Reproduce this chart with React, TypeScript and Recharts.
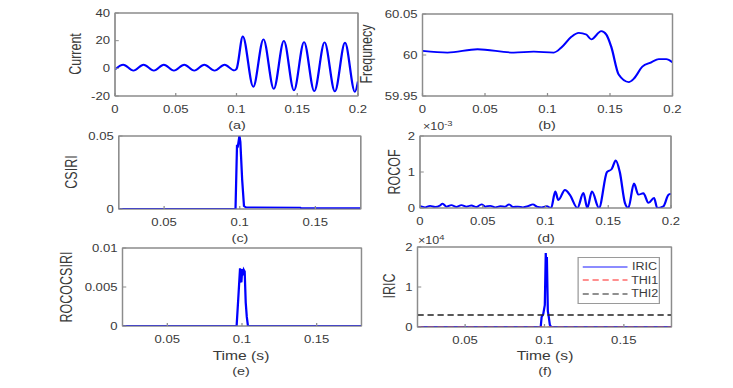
import React from "react";
import { LineChart, Line, XAxis, YAxis, Legend, ReferenceArea } from "recharts";

// horizontal stretch of the original figure
const S = 1.25;
const FONT = "'Liberation Sans', Arial, Helvetica, sans-serif";
const AXIS = "#8c8c8c";
const TEXT = "#3a3a3a";
const BLUE = "#0000ff";

// (a) current
const currentT = [0, 0.0068, 0.0152, 0.0235, 0.032, 0.0402, 0.0485, 0.057, 0.0652, 0.0735, 0.082, 0.0902, 0.0982, 0.1, 0.1052, 0.1138, 0.1222, 0.1307, 0.139, 0.1473, 0.1556, 0.164, 0.1725, 0.181, 0.1893, 0.1975, 0.2];
const currentV = [-0.8, 2.6, -1.6, 2.6, -1.6, 2.6, -1.6, 2.6, -1.6, 2.6, -1.6, 2.6, -1.5, -0.5, 23, -13.3, 21, -14.8, 19.9, -16, 19, -16.5, 18.7, -16.7, 18.5, -17, -9.5];

// (b) frequency
const freqT = [0, 0.02, 0.044, 0.073, 0.089, 0.105, 0.111, 0.119, 0.125, 0.131, 0.135, 0.143, 0.147, 0.151, 0.157, 0.165, 0.169, 0.176, 0.183, 0.189, 0.195, 0.2];
const freqV = [60.005, 60.003, 60.007, 60.003, 60.004, 60.003, 60.009, 60.022, 60.027, 60.025, 60.019, 60.029, 60.025, 60.01, 59.976, 59.967, 59.971, 59.986, 59.991, 59.995, 59.995, 59.991];

// (c) CSIRI
const csiriT = [0.02, 0.0972, 0.0982, 0.0986, 0.0998, 0.1004, 0.1016, 0.1028, 0.104, 0.14, 0.1405, 0.18];
const csiriV = [0, 0, 0.044, 0.042, 0.05, 0.046, 0.02, 0.002, 0.0012, 0.001, 0.0006, 0.0005];

// (d) ROCOF, x 10^-3
const rocofT = [0, 0.004, 0.008, 0.012, 0.016, 0.018, 0.021, 0.025, 0.029, 0.033, 0.037, 0.041, 0.045, 0.049, 0.052, 0.056, 0.06, 0.064, 0.068, 0.071, 0.074, 0.078, 0.082, 0.086, 0.09, 0.093, 0.097, 0.101, 0.1045, 0.1078, 0.1102, 0.1155, 0.1195, 0.1254, 0.1302, 0.1333, 0.137, 0.1426, 0.149, 0.1527, 0.156, 0.1592, 0.1633, 0.166, 0.1705, 0.174, 0.178, 0.182, 0.1865, 0.189, 0.194, 0.198, 0.2];
const rocofV = [0.05, 0.02, 0.06, 0.03, 0.07, 0.12, 0.04, 0.08, 0.03, 0.08, 0.04, 0.07, 0.03, 0.1, 0.04, 0.06, 0.02, 0.05, 0.04, 0.1, 0.03, 0.04, 0.02, 0.05, 0.1, 0.04, 0.02, 0.05, 0, 0.46, 0.22, 0.5, 0.36, 0, 0.42, 0, 0.46, 0, 1.0, 1.08, 1.32, 1.0, 0.14, 0, 0.68, 0.37, 0.41, 0.14, 0.28, 0, 0.05, 0.37, 0.39];

// (e) ROCOCSIRI
const rocoT = [0.02, 0.0964, 0.0975, 0.0987, 0.0991, 0.0996, 0.1002, 0.1007, 0.1012, 0.1018, 0.1025, 0.1032, 0.104, 0.18];
const rocoV = [0, 0, 0.0035, 0.0074, 0.0058, 0.0056, 0.0073, 0.0065, 0.0072, 0.007, 0.003, 0.0012, 0, 0];

// (f) IRIC and thresholds, x 10^4
const iricT = [0.02, 0.0976, 0.0982, 0.0992, 0.1002, 0.1008, 0.1011, 0.1015, 0.1021, 0.1027, 0.1034, 0.1042, 0.18];
const iricV = [0, 0, 0.25, 0.32, 0.55, 1.85, 1.45, 1.75, 0.4, 0.25, 0.05, 0, 0];
const thiT = [0.02, 0.18];
const thi1V = [0, 0];
const thi2V = [0.3, 0.3];

const fullTicks = [0, 0.05, 0.1, 0.15, 0.2];
const zoomTicks = [0.05, 0.1, 0.15];

const zip = (t: number[], v: number[]) => t.map((x, i) => ({ t: x, v: v[i] }));

const PAD_L = 60, PAD_R = 16, PAD_T = 6, PAD_B = 24;

interface PanelProps {
  left: number; right: number; top: number; bottom: number;
  xDomain: [number, number]; xTicks: number[];
  yDomain: [number, number]; yTicks: number[];
  children: React.ReactNode;
}

function Panel({ left, right, top, bottom, xDomain, xTicks, yDomain, yTicks, children }: PanelProps) {
  const w = (right - left) / S;
  const h = bottom - top;
  const tick = { fontSize: 10.5, fill: TEXT, fontFamily: FONT };
  return (
    <div style={{ position: "absolute", left: left / S - PAD_L, top: top - PAD_T }}>
      <LineChart width={w + PAD_L + PAD_R} height={h + PAD_T + PAD_B} margin={{ top: PAD_T - 1, right: PAD_R - 1, bottom: 0, left: 0 }}>
        <XAxis type="number" dataKey="t" domain={xDomain} ticks={xTicks} interval={0} allowDataOverflow height={PAD_B} tick={tick} stroke={AXIS} tickSize={-3} tickMargin={13} />
        <XAxis xAxisId="top" orientation="top" type="number" dataKey="t" domain={xDomain} ticks={xTicks} interval={0} allowDataOverflow height={1} tick={false} stroke={AXIS} tickSize={-3} />
        <YAxis type="number" domain={yDomain} ticks={yTicks} interval={0} allowDataOverflow width={PAD_L} tick={tick} stroke={AXIS} tickSize={-3} tickMargin={7} />
        <YAxis yAxisId="right" orientation="right" type="number" domain={yDomain} ticks={yTicks} interval={0} allowDataOverflow width={1} tick={false} stroke={AXIS} tickSize={-3} />
        <ReferenceArea x1={xDomain[0]} x2={xDomain[1]} y1={yDomain[0]} y2={yDomain[1]} fill="none" stroke={AXIS} strokeWidth={1} ifOverflow="visible" />
        {children}
      </LineChart>
    </div>
  );
}

function VLabel({ x, y, text }: { x: number; y: number; text: string }) {
  return (
    <div style={{ position: "absolute", left: x / S, top: y, transform: "translate(-50%, -50%) rotate(-90deg)", whiteSpace: "nowrap", fontSize: 12.5, fontFamily: FONT, color: TEXT, lineHeight: 1 }}>
      {text}
    </div>
  );
}

function HLabel({ x, y, text, size = 12.5 }: { x: number; y: number; text: string; size?: number }) {
  return (
    <div style={{ position: "absolute", left: x / S, top: y, transform: "translate(-50%, -50%)", whiteSpace: "nowrap", fontSize: size, fontFamily: FONT, color: TEXT, lineHeight: 1 }}>
      {text}
    </div>
  );
}

function Exponent({ x, y, exp }: { x: number; y: number; exp: string }) {
  return (
    <div style={{ position: "absolute", left: x / S, top: y, whiteSpace: "nowrap", fontSize: 10, fontFamily: FONT, color: TEXT, lineHeight: "10px" }}>
      ×10<span style={{ fontSize: 7.5, position: "relative", top: -4 }}>{exp}</span>
    </div>
  );
}

function LegendBox(props: any) {
  const items = props.payload || [];
  return (
    <div style={{ width: 64, border: "1px solid #9a9a9a", background: "#fff", padding: "2px 0", fontFamily: FONT, fontSize: 10, color: TEXT }}>
      {items.map((it: any) => {
        const dash = it.payload?.strokeDasharray;
        return (
          <div key={it.value} style={{ display: "flex", alignItems: "center", height: 13.5 }}>
            <svg width={38} height={6} style={{ marginLeft: 3, marginRight: 2 }}>
              <line x1={0} y1={3} x2={36} y2={3} stroke={it.color} strokeWidth={dash ? 1 : 2} strokeOpacity={dash ? 1 : 0.45} strokeDasharray={dash} />
            </svg>
            <span>{it.value}</span>
          </div>
        );
      })}
    </div>
  );
}

export default function App() {
  const line = { dataKey: "v", dot: false, isAnimationActive: false, stroke: BLUE, strokeWidth: 1.8 };
  return (
    <div style={{ position: "absolute", left: 0, top: 0, width: 733, height: 388, overflow: "hidden", background: "#fff" }}>
      <div style={{ position: "relative", width: 733 / S, height: 388, transform: `scaleX(${S})`, transformOrigin: "0 0" }}>
        {/* (a) */}
        <Panel left={115} right={358} top={13} bottom={96} xDomain={[0, 0.2]} xTicks={fullTicks} yDomain={[-20, 40]} yTicks={[-20, 0, 20, 40]}>
          <Line {...line} type="monotone" data={zip(currentT, currentV)} />
        </Panel>
        <VLabel x={76} y={54} text="Current" />
        <HLabel x={237} y={126} text="(a)" size={11.5} />

        {/* (b) */}
        <Panel left={422} right={672} top={14} bottom={96} xDomain={[0, 0.2]} xTicks={fullTicks} yDomain={[59.95, 60.05]} yTicks={[59.95, 60, 60.05]}>
          <Line {...line} type="monotone" data={zip(freqT, freqV)} />
        </Panel>
        <VLabel x={367} y={54} text="Frequnecy" />
        <HLabel x={547} y={126} text="(b)" size={11.5} />

        {/* (c) */}
        <Panel left={119} right={361} top={136} bottom={209} xDomain={[0.02, 0.18]} xTicks={zoomTicks} yDomain={[0, 0.05]} yTicks={[0, 0.05]}>
          <Line {...line} type="linear" data={zip(csiriT, csiriV)} />
        </Panel>
        <VLabel x={72} y={172} text="CSIRI" />
        <HLabel x={240} y={239} text="(c)" size={11.5} />

        {/* (d) */}
        <Panel left={420} right={671} top={136} bottom={208} xDomain={[0, 0.2]} xTicks={fullTicks} yDomain={[0, 2]} yTicks={[0, 1, 2]}>
          <Line {...line} type="monotone" data={zip(rocofT, rocofV)} />
        </Panel>
        <Exponent x={423} y={122} exp="-3" />
        <VLabel x={395} y={172} text="ROCOF" />
        <HLabel x={546} y={239} text="(d)" size={11.5} />

        {/* (e) */}
        <Panel left={122} right={361} top={248} bottom={326} xDomain={[0.02, 0.18]} xTicks={zoomTicks} yDomain={[0, 0.01]} yTicks={[0, 0.005, 0.01]}>
          <Line {...line} type="linear" data={zip(rocoT, rocoV)} />
        </Panel>
        <VLabel x={68} y={287} text="ROCOCSIRI" />
        <HLabel x={241} y={356} text="Time (s)" />
        <HLabel x={241} y={372} text="(e)" size={11.5} />

        {/* (f) */}
        <Panel left={418} right={672} top={247} bottom={327} xDomain={[0.02, 0.18]} xTicks={zoomTicks} yDomain={[0, 2]} yTicks={[0, 1, 2]}>
          <Line {...line} type="linear" name="IRIC" data={zip(iricT, iricV)} />
          <Line {...line} type="linear" name="THI1" stroke="#ff2020" strokeWidth={1.2} strokeDasharray="5 3" data={zip(thiT, thi1V)} />
          <Line {...line} type="linear" name="THI2" stroke="#222222" strokeWidth={1.5} strokeDasharray="5 3" data={zip(thiT, thi2V)} />
          <Legend layout="vertical" align="center" verticalAlign="middle" content={LegendBox} wrapperStyle={{ left: 577 / S - (418 / S - PAD_L), top: 257 - (247 - PAD_T), width: 66 }} />
        </Panel>
        <Exponent x={418} y={236} exp="4" />
        <VLabel x={390} y={286} text="IRIC" />
        <HLabel x={545} y={356} text="Time (s)" />
        <HLabel x={545} y={372} text="(f)" size={11.5} />
      </div>
    </div>
  );
}
